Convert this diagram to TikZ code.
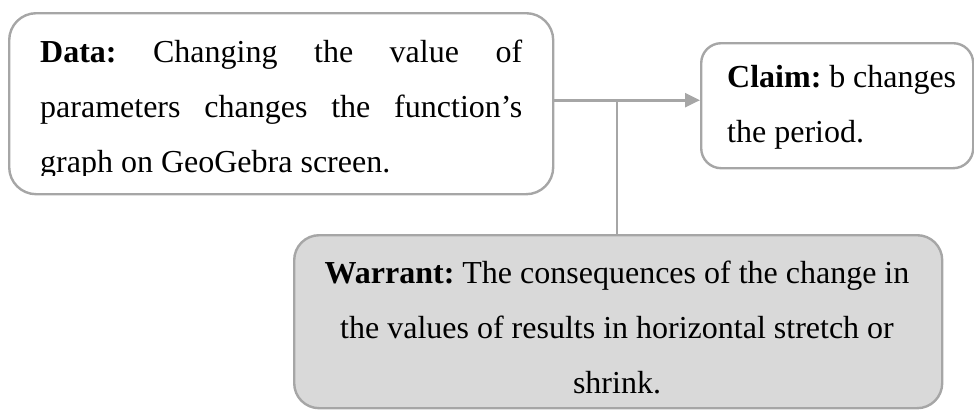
\documentclass[tikz,border=0pt]{standalone}
\usepackage{fontspec}
\setmainfont{Liberation Serif}
\usetikzlibrary{arrows.meta}
\definecolor{edgegray}{HTML}{A6A6A6}
\definecolor{warrantfill}{HTML}{D9D9D9}
\newcommand\diagfont{\fontsize{32}{55}\selectfont\frenchspacing}
\begin{document}
\begin{tikzpicture}[x=1pt,y=-1pt,
  box/.style={draw=edgegray, line width=2.4pt, rounded corners=#1, inner sep=0pt, anchor=north west},
  box/.default=20pt,
  txt/.style={inner sep=0pt, font=\diagfont},
  conn/.style={draw=edgegray, line width=2.6pt},
  tip/.style={-{Triangle[length=15pt,width=14pt,fill=edgegray]}}
]
\useasboundingbox (0,0) rectangle (974,410);

% boxes
\node[box=27pt, minimum width=544pt, minimum height=181pt] (data) at (8,12) {};
\node[box=20pt, minimum width=272pt, minimum height=125pt] (claim) at (700,42) {};
\node[box=25pt, fill=warrantfill, minimum width=648pt, minimum height=173pt] (warrant) at (293,234) {};

% box texts
\begin{scope}
  \clip (8,12) rectangle (552,175);
  \node[txt, anchor=north west, text width=482pt, align=justify] (datatext) at (40,40)
    {\hyphenpenalty=10000\tolerance=10000\textbf{Data:} Changing the value of\linebreak parameters changes the function’s\linebreak graph on GeoGebra screen.};
\end{scope}
\node[txt, anchor=north west, text width=229pt, align=justify] (claimtext) at (727,65)
  {\hyphenpenalty=10000\tolerance=10000\textbf{Claim:} b changes\linebreak the period.};
\node[txt, anchor=north, align=center] (warranttext) at (617,261)
  {\textbf{Warrant:} The consequences of the change in\\ the values of results in horizontal stretch or\\ shrink.};

% connectors
\coordinate (jn) at ([yshift=3.5pt]data.east -| 617,0);
\draw[conn, tip] ([yshift=3.5pt]data.east) -- ([yshift=3.5pt]data.east -| claim.west);
\draw[conn] (jn) -- (jn |- warrant.north);
\end{tikzpicture}
\end{document}
